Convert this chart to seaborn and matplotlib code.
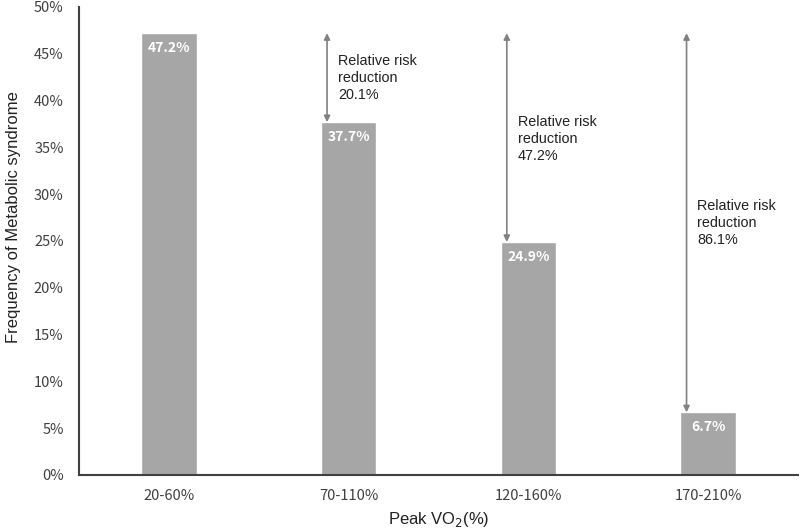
import numpy as np
import pandas as pd
import matplotlib
matplotlib.use('Agg')
import matplotlib.pyplot as plt
import seaborn as sns

# Data
groups = ['20-60%', '70-110%', '120-160%', '170-210%']
frequency = [47.2, 37.7, 24.9, 6.7]
rrr = [None, 20.1, 47.2, 86.1]
rrr_text_y = [None, 45.0, 38.5, 29.5]

sns.set_style('white')
plt.rcParams['font.family'] = ['Liberation Sans', 'DejaVu Sans']

df = pd.DataFrame({'group': groups, 'freq': frequency})

fig = plt.figure(figsize=(8, 5.3), dpi=100)
ax = fig.add_axes([79 / 800, 55 / 530, 719 / 800, 468 / 530])

sns.barplot(data=df, x='group', y='freq', color='#a6a6a6', saturation=1,
            width=0.31, ax=ax)

ax.set_xlim(-0.5, 3.5)
ax.set_ylim(0, 50)
ax.set_yticks(np.arange(0, 51, 5))
tick_font = ['Noto Sans CJK KR', 'DejaVu Sans']
ax.set_yticklabels([f'{v}%' for v in range(0, 51, 5)], family=tick_font,
                   fontsize=10.5, color='#404040')
ax.set_xticks(range(len(groups)))
ax.set_xticklabels(groups, family=tick_font, fontsize=10.5, color='#404040')
ax.tick_params(axis='x', length=0, pad=10)
ax.tick_params(axis='y', length=0, pad=11)

for side in ['top', 'right']:
    ax.spines[side].set_visible(False)
for side in ['left', 'bottom']:
    ax.spines[side].set_color('#404040')
    ax.spines[side].set_linewidth(1.5)

# value labels inside the bars
for i, v in enumerate(frequency):
    ax.text(i, v - 1.6, f'{v}%', ha='center', va='center', color='white',
            fontsize=10, fontweight='bold', family=tick_font)

# arrows showing the reduction from the first group
top = frequency[0]
for i in range(1, len(groups)):
    x = i - 0.12
    ax.annotate('', xy=(x, frequency[i]), xytext=(x, top),
                arrowprops=dict(arrowstyle='<|-|>', color='#808080', lw=1.2,
                                mutation_scale=9, shrinkA=0, shrinkB=0))
    ax.text(x + 0.06, rrr_text_y[i], f'Relative risk\nreduction\n{rrr[i]}%',
            ha='left', va='top', fontsize=10.4, color='#222222', linespacing=1.3)

ax.set_ylabel('Frequency of Metabolic syndrome', fontsize=12, color='#222222')
ax.yaxis.set_label_coords(-0.081, 0.551)
ax.set_xlabel('Peak VO$_2$(%)', fontsize=12, color='#222222', labelpad=5)

fig.savefig('out.png', dpi=100)
